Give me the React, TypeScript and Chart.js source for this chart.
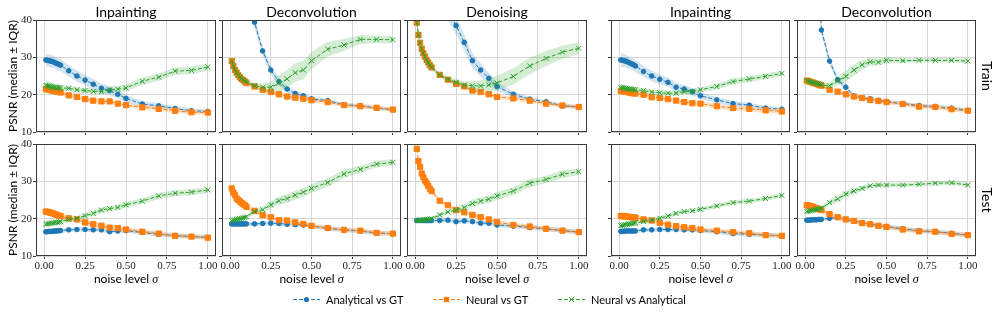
import React, { useEffect, useRef } from "react";
import { Chart, registerables } from "chart.js";
Chart.register(...registerables);

// ---------------- data ----------------
const sigma = [0.01, 0.02, 0.03, 0.04, 0.05, 0.06, 0.07, 0.08, 0.09, 0.1, 0.15, 0.2, 0.25, 0.3, 0.35, 0.4, 0.45, 0.5, 0.6, 0.7, 0.8, 0.9, 1.0];
const xTickValues = [0, 0.25, 0.5, 0.75, 1];
const yTickValues = [10, 20, 30, 40];
const taskTitles = ["Inpainting", "Deconvolution", "Denoising", "Inpainting", "Deconvolution"];
const rowLabels = ["Train", "Test"];
const seriesNames = ["Analytical vs GT", "Neural vs GT", "Neural vs Analytical"];
const yAxisLabel = "PSNR (median \u00b1 IQR)";
const xAxisLabel = "noise level";

// Train row, left block
const trInpL_A = [29.3, 29.2, 29.1, 29.0, 28.9, 28.7, 28.5, 28.3, 28.1, 27.9, 26.4, 25.0, 23.9, 22.8, 21.7, 21.1, 20.1, 19.0, 17.5, 17.0, 16.3, 15.7, 15.5];
const trInpL_Aiqr = [1.7, 1.7, 1.7, 1.7, 1.6, 1.6, 1.6, 1.6, 1.6, 1.6, 1.5, 1.5, 1.4, 1.4, 1.3, 1.2, 1.1, 1.0, 0.8, 0.7, 0.6, 0.6, 0.5];
const trInpL_N = [21.5, 21.4, 21.3, 21.2, 21.1, 21.0, 20.9, 20.8, 20.7, 20.6, 19.8, 19.4, 18.8, 18.4, 18.2, 18.2, 17.6, 17.2, 16.6, 16.2, 15.7, 15.3, 15.2];
const trInpL_Niqr = [0.8, 0.8, 0.8, 0.8, 0.8, 0.8, 0.7, 0.7, 0.7, 0.7, 0.7, 0.7, 0.7, 0.7, 0.6, 0.6, 0.6, 0.6, 0.6, 0.6, 0.6, 0.6, 0.6];
const trInpL_X = [22.5, 22.4, 22.3, 22.2, 22.1, 22.0, 22.0, 21.9, 21.9, 21.8, 21.7, 21.3, 21.1, 20.9, 20.8, 21.3, 21.5, 21.8, 23.6, 24.7, 26.3, 26.5, 27.4];
const trInpL_Xiqr = [1.4, 1.3, 1.2, 1.1, 1.0, 0.9, 0.9, 0.8, 0.8, 0.8, 0.7, 0.7, 0.7, 0.7, 0.7, 0.8, 0.8, 0.9, 1.0, 1.0, 1.0, 1.0, 1.0];

const trDecL_A = [null, null, null, null, null, null, null, null, null, 48.0, 39.4, 31.7, 26.6, 23.5, 21.5, 20.3, 19.7, 18.9, 18.4, 17.3, 17.0, 16.4, 16.0];
const trDecL_Aiqr = [null, null, null, null, null, null, null, null, null, 1.8, 1.5, 1.3, 1.2, 1.0, 0.9, 0.8, 0.7, 0.6, 0.5, 0.5, 0.5, 0.5, 0.5];
const trDecL_N = [29.0, 27.7, 26.6, 25.9, 25.2, 24.7, 24.2, 23.9, 23.5, 23.1, 22.2, 21.3, 20.7, 20.1, 19.5, 19.2, 18.9, 18.5, 18.0, 17.2, 16.9, 16.5, 16.0];
const trDecL_Niqr = [0.7, 0.7, 0.6, 0.6, 0.6, 0.6, 0.6, 0.6, 0.6, 0.6, 0.6, 0.6, 0.6, 0.6, 0.6, 0.6, 0.6, 0.6, 0.6, 0.6, 0.6, 0.6, 0.6];
const trDecL_X = [29.0, 27.7, 26.6, 25.9, 25.2, 24.7, 24.3, 24.0, 23.7, 23.4, 22.4, 22.0, 22.0, 23.0, 24.2, 25.9, 26.6, 29.1, 32.2, 33.3, 34.8, 34.8, 34.7];
const trDecL_Xiqr = [0.6, 0.6, 0.6, 0.6, 0.6, 0.6, 0.6, 0.6, 0.6, 0.6, 0.8, 1.0, 1.5, 2.2, 2.5, 2.5, 2.5, 2.3, 2.0, 1.6, 1.2, 1.0, 1.0];

const trDenL_A = [null, null, null, null, null, null, null, null, null, null, 46.5, 42.3, 38.5, 34.0, 29.1, 26.6, 24.4, 22.2, 20.1, 18.8, 18.1, 17.0, 16.7];
const trDenL_Aiqr = [null, null, null, null, null, null, null, null, null, null, 2.5, 2.5, 2.3, 2.2, 2.0, 1.8, 1.5, 1.2, 0.8, 0.6, 0.5, 0.5, 0.5];
const trDenL_N = [39.3, 36.0, 33.9, 32.3, 31.1, 30.2, 29.3, 28.6, 27.9, 27.3, 25.3, 24.0, 22.9, 22.2, 21.1, 20.7, 20.1, 19.4, 19.0, 18.4, 17.6, 17.1, 16.7];
const trDenL_Niqr = [0.7, 0.7, 0.6, 0.6, 0.6, 0.6, 0.6, 0.6, 0.6, 0.6, 0.6, 0.6, 0.6, 0.6, 0.6, 0.6, 0.6, 0.6, 0.6, 0.6, 0.6, 0.6, 0.6];
const trDenL_X = [39.3, 36.0, 33.9, 32.3, 31.1, 30.2, 29.3, 28.6, 27.9, 27.3, 25.3, 24.1, 23.3, 22.6, 22.4, 22.3, 22.6, 23.1, 24.9, 27.7, 29.7, 31.4, 32.4];
const trDenL_Xiqr = [0.6, 0.6, 0.6, 0.6, 0.6, 0.6, 0.6, 0.6, 0.6, 0.6, 0.6, 0.7, 0.8, 1.0, 1.2, 1.5, 1.8, 2.0, 2.2, 2.2, 2.0, 1.8, 1.6];

// Train row, right block
const trInpR_A = [29.3, 29.2, 29.1, 29.0, 28.8, 28.6, 28.4, 28.2, 28.0, 27.7, 26.2, 25.0, 24.1, 23.3, 22.0, 21.5, 20.8, 19.7, 18.6, 17.6, 17.2, 16.4, 16.1];
const trInpR_Aiqr = [1.8, 1.8, 1.8, 1.7, 1.7, 1.7, 1.6, 1.6, 1.6, 1.6, 1.5, 1.4, 1.3, 1.2, 1.2, 1.1, 1.0, 0.9, 0.8, 0.7, 0.6, 0.6, 0.5];
const trInpR_N = [21.0, 20.9, 20.9, 20.8, 20.7, 20.6, 20.5, 20.4, 20.4, 20.3, 20.0, 19.3, 19.1, 18.8, 18.4, 18.0, 17.7, 17.6, 16.9, 16.4, 16.2, 15.8, 15.5];
const trInpR_Niqr = [0.8, 0.8, 0.8, 0.8, 0.8, 0.8, 0.8, 0.8, 0.8, 0.8, 0.8, 0.8, 0.7, 0.7, 0.7, 0.7, 0.7, 0.7, 0.7, 0.7, 0.7, 0.7, 0.7];
const trInpR_X = [21.9, 21.8, 21.8, 21.7, 21.6, 21.5, 21.5, 21.4, 21.4, 21.3, 21.1, 20.7, 20.5, 20.4, 20.4, 20.8, 20.9, 21.3, 22.2, 23.5, 24.2, 24.9, 25.7];
const trInpR_Xiqr = [1.0, 1.0, 0.9, 0.9, 0.8, 0.8, 0.8, 0.7, 0.7, 0.7, 0.7, 0.7, 0.7, 0.7, 0.7, 0.7, 0.7, 0.7, 0.8, 0.8, 0.8, 0.8, 0.8];

const trDecR_A = [null, null, null, null, null, null, null, null, 45.0, 37.3, 29.0, 24.0, 22.0, 19.7, 19.1, 18.9, 18.5, 18.2, 17.6, 17.1, 16.8, 16.4, 15.8];
const trDecR_Aiqr = [null, null, null, null, null, null, null, null, 1.4, 1.2, 1.0, 0.9, 0.8, 0.6, 0.5, 0.5, 0.5, 0.5, 0.5, 0.5, 0.5, 0.5, 0.5];
const trDecR_N = [23.8, 23.6, 23.5, 23.3, 23.2, 23.0, 22.9, 22.7, 22.6, 22.4, 21.3, 20.8, 20.1, 19.5, 19.1, 18.6, 18.3, 18.0, 17.5, 16.8, 16.7, 16.1, 15.7];
const trDecR_Niqr = [0.6, 0.6, 0.6, 0.6, 0.6, 0.6, 0.6, 0.6, 0.6, 0.6, 0.6, 0.6, 0.6, 0.6, 0.6, 0.6, 0.6, 0.6, 0.6, 0.6, 0.6, 0.6, 0.6];
const trDecR_X = [23.8, 23.6, 23.5, 23.4, 23.2, 23.1, 23.0, 22.9, 22.8, 22.6, 22.4, 23.7, 24.9, 26.6, 28.0, 28.8, 28.7, 29.2, 29.1, 29.2, 29.2, 29.2, 29.0];
const trDecR_Xiqr = [0.6, 0.6, 0.6, 0.6, 0.6, 0.6, 0.6, 0.6, 0.6, 0.6, 0.8, 1.2, 1.5, 1.5, 1.3, 1.0, 0.9, 0.8, 0.6, 0.6, 0.6, 0.6, 0.6];

// Test row, left block
const teInpL_A = [16.5, 16.5, 16.6, 16.6, 16.6, 16.7, 16.7, 16.7, 16.8, 16.8, 17.0, 17.1, 17.1, 17.0, 17.0, 16.5, 16.7, 16.8, 16.3, 15.8, 15.5, 15.2, 15.0];
const teInpL_Aiqr = [0.6, 0.6, 0.6, 0.6, 0.6, 0.6, 0.6, 0.6, 0.6, 0.6, 0.6, 0.6, 0.6, 0.6, 0.6, 0.6, 0.6, 0.6, 0.6, 0.6, 0.6, 0.6, 0.6];
const teInpL_N = [21.9, 21.8, 21.7, 21.6, 21.5, 21.3, 21.1, 21.0, 20.8, 20.7, 20.1, 19.8, 19.0, 18.5, 18.1, 17.6, 17.5, 17.1, 16.5, 16.0, 15.4, 15.2, 14.9];
const teInpL_Niqr = [1.0, 1.0, 1.0, 1.0, 1.0, 0.9, 0.9, 0.9, 0.9, 0.9, 0.8, 0.8, 0.8, 0.7, 0.7, 0.7, 0.7, 0.7, 0.6, 0.6, 0.6, 0.6, 0.6];
const teInpL_X = [18.5, 18.6, 18.7, 18.8, 18.8, 18.9, 19.0, 19.0, 19.1, 19.2, 19.8, 20.1, 20.8, 21.4, 22.3, 22.7, 23.0, 23.7, 24.7, 26.1, 26.8, 27.1, 27.7];
const teInpL_Xiqr = [0.6, 0.6, 0.6, 0.6, 0.6, 0.6, 0.6, 0.6, 0.6, 0.6, 0.6, 0.6, 0.7, 0.7, 0.7, 0.7, 0.8, 0.8, 0.8, 0.8, 0.8, 0.8, 0.8];

const teDecL_A = [18.6, 18.6, 18.6, 18.6, 18.6, 18.6, 18.6, 18.6, 18.6, 18.6, 18.6, 18.7, 18.8, 18.7, 18.5, 18.4, 18.3, 18.0, 17.4, 17.0, 16.7, 16.1, 16.0];
const teDecL_Aiqr = [0.5, 0.5, 0.5, 0.5, 0.5, 0.5, 0.5, 0.5, 0.5, 0.5, 0.6, 0.6, 0.6, 0.6, 0.6, 0.6, 0.6, 0.6, 0.6, 0.6, 0.6, 0.6, 0.6];
const teDecL_N = [28.1, 27.0, 26.3, 25.4, 25.0, 24.6, 24.2, 23.9, 23.6, 23.2, 22.1, 20.9, 20.4, 19.6, 19.5, 19.0, 18.6, 18.1, 17.5, 17.0, 16.8, 16.2, 16.0];
const teDecL_Niqr = [1.0, 1.0, 0.9, 0.9, 0.9, 0.8, 0.8, 0.8, 0.8, 0.8, 0.7, 0.7, 0.7, 0.7, 0.6, 0.6, 0.6, 0.6, 0.6, 0.6, 0.6, 0.6, 0.6];
const teDecL_X = [19.5, 19.6, 19.7, 19.8, 19.9, 20.0, 20.1, 20.2, 20.3, 20.5, 21.9, 22.4, 23.7, 24.8, 25.4, 26.3, 27.1, 28.1, 29.7, 32.0, 33.2, 34.6, 35.1];
const teDecL_Xiqr = [0.5, 0.5, 0.5, 0.5, 0.5, 0.5, 0.5, 0.5, 0.5, 0.5, 0.7, 0.8, 1.0, 1.1, 1.2, 1.2, 1.2, 1.2, 1.2, 1.1, 1.0, 0.9, 0.8];

const teDenL_A = [19.5, 19.5, 19.5, 19.5, 19.5, 19.5, 19.5, 19.5, 19.5, 19.5, 19.5, 19.6, 19.2, 19.4, 19.2, 18.8, 18.8, 18.3, 18.0, 17.6, 17.3, 16.8, 16.4];
const teDenL_Aiqr = [0.5, 0.5, 0.5, 0.5, 0.5, 0.5, 0.5, 0.5, 0.5, 0.5, 0.6, 0.6, 0.6, 0.6, 0.6, 0.6, 0.6, 0.6, 0.6, 0.6, 0.6, 0.6, 0.6];
const teDenL_N = [38.7, 35.4, 33.9, 32.1, 31.1, 30.2, 29.5, 28.8, 28.0, 27.4, 24.8, 23.6, 22.3, 21.7, 21.0, 20.4, 19.8, 19.1, 18.3, 17.9, 17.3, 16.8, 16.4];
const teDenL_Niqr = [0.8, 0.8, 0.7, 0.7, 0.7, 0.7, 0.7, 0.7, 0.7, 0.7, 0.7, 0.7, 0.7, 0.6, 0.6, 0.6, 0.6, 0.6, 0.6, 0.6, 0.6, 0.6, 0.6];
const teDenL_X = [19.5, 19.5, 19.6, 19.6, 19.7, 19.7, 19.8, 19.8, 19.9, 20.0, 21.0, 21.8, 22.3, 23.0, 24.1, 24.7, 25.2, 26.1, 27.4, 29.5, 30.5, 31.9, 32.6];
const teDenL_Xiqr = [0.5, 0.5, 0.5, 0.5, 0.5, 0.5, 0.5, 0.5, 0.5, 0.5, 0.6, 0.7, 0.8, 0.9, 1.0, 1.0, 1.0, 1.1, 1.1, 1.1, 1.0, 1.0, 0.9];

// Test row, right block
const teInpR_A = [16.6, 16.6, 16.6, 16.7, 16.7, 16.7, 16.7, 16.7, 16.7, 16.7, 17.0, 17.0, 17.1, 17.1, 17.1, 17.0, 17.0, 16.8, 16.5, 16.0, 15.8, 15.6, 15.4];
const teInpR_Aiqr = [0.6, 0.6, 0.6, 0.6, 0.6, 0.6, 0.6, 0.6, 0.6, 0.6, 0.6, 0.6, 0.6, 0.6, 0.6, 0.6, 0.6, 0.6, 0.6, 0.6, 0.6, 0.6, 0.6];
const teInpR_N = [20.7, 20.7, 20.6, 20.6, 20.5, 20.5, 20.4, 20.4, 20.3, 20.3, 19.8, 19.5, 18.9, 18.4, 18.0, 17.7, 17.5, 17.1, 16.8, 16.4, 16.1, 15.6, 15.4];
const teInpR_Niqr = [1.0, 1.0, 1.0, 1.0, 0.9, 0.9, 0.9, 0.9, 0.9, 0.9, 0.8, 0.8, 0.8, 0.7, 0.7, 0.7, 0.7, 0.7, 0.6, 0.6, 0.6, 0.6, 0.6];
const teInpR_X = [18.1, 18.2, 18.3, 18.4, 18.5, 18.6, 18.6, 18.7, 18.8, 18.9, 19.2, 19.6, 20.1, 20.7, 21.4, 21.9, 22.1, 22.5, 23.4, 24.3, 24.7, 25.4, 26.2];
const teInpR_Xiqr = [0.6, 0.6, 0.6, 0.6, 0.6, 0.6, 0.6, 0.6, 0.6, 0.6, 0.6, 0.6, 0.6, 0.6, 0.6, 0.6, 0.6, 0.6, 0.6, 0.6, 0.6, 0.6, 0.6];

const teDecR_A = [19.6, 19.6, 19.6, 19.7, 19.7, 19.7, 19.7, 19.8, 19.8, 19.8, 20.1, 20.3, 19.8, 19.4, 18.9, 18.6, 18.1, 17.9, 17.3, 16.8, 16.5, 16.1, 15.6];
const teDecR_Aiqr = [0.5, 0.5, 0.5, 0.5, 0.5, 0.5, 0.5, 0.5, 0.5, 0.5, 0.6, 0.6, 0.6, 0.6, 0.6, 0.6, 0.6, 0.6, 0.6, 0.6, 0.6, 0.6, 0.6];
const teDecR_N = [23.6, 23.5, 23.4, 23.3, 23.1, 22.9, 22.8, 22.6, 22.5, 22.3, 21.2, 20.4, 19.8, 19.4, 18.8, 18.5, 18.1, 17.8, 17.1, 16.6, 16.5, 15.9, 15.6];
const teDecR_Niqr = [1.0, 1.0, 1.0, 0.9, 0.9, 0.9, 0.9, 0.9, 0.8, 0.8, 0.8, 0.7, 0.7, 0.7, 0.6, 0.6, 0.6, 0.6, 0.6, 0.6, 0.6, 0.6, 0.6];
const teDecR_X = [21.9, 22.0, 22.1, 22.2, 22.3, 22.4, 22.5, 22.6, 22.7, 22.8, 24.3, 25.3, 26.6, 27.4, 28.1, 28.8, 29.0, 29.0, 29.0, 29.2, 29.5, 29.6, 29.0];
const teDecR_Xiqr = [0.6, 0.6, 0.6, 0.6, 0.6, 0.6, 0.6, 0.6, 0.6, 0.6, 0.8, 0.9, 0.9, 0.8, 0.7, 0.6, 0.6, 0.6, 0.6, 0.6, 0.6, 0.6, 0.6];

const panels = [
  { row: 0, col: 0, a: trInpL_A, aI: trInpL_Aiqr, n: trInpL_N, nI: trInpL_Niqr, x: trInpL_X, xI: trInpL_Xiqr },
  { row: 0, col: 1, a: trDecL_A, aI: trDecL_Aiqr, n: trDecL_N, nI: trDecL_Niqr, x: trDecL_X, xI: trDecL_Xiqr },
  { row: 0, col: 2, a: trDenL_A, aI: trDenL_Aiqr, n: trDenL_N, nI: trDenL_Niqr, x: trDenL_X, xI: trDenL_Xiqr },
  { row: 0, col: 3, a: trInpR_A, aI: trInpR_Aiqr, n: trInpR_N, nI: trInpR_Niqr, x: trInpR_X, xI: trInpR_Xiqr },
  { row: 0, col: 4, a: trDecR_A, aI: trDecR_Aiqr, n: trDecR_N, nI: trDecR_Niqr, x: trDecR_X, xI: trDecR_Xiqr },
  { row: 1, col: 0, a: teInpL_A, aI: teInpL_Aiqr, n: teInpL_N, nI: teInpL_Niqr, x: teInpL_X, xI: teInpL_Xiqr },
  { row: 1, col: 1, a: teDecL_A, aI: teDecL_Aiqr, n: teDecL_N, nI: teDecL_Niqr, x: teDecL_X, xI: teDecL_Xiqr },
  { row: 1, col: 2, a: teDenL_A, aI: teDenL_Aiqr, n: teDenL_N, nI: teDenL_Niqr, x: teDenL_X, xI: teDenL_Xiqr },
  { row: 1, col: 3, a: teInpR_A, aI: teInpR_Aiqr, n: teInpR_N, nI: teInpR_Niqr, x: teInpR_X, xI: teInpR_Xiqr },
  { row: 1, col: 4, a: teDecR_A, aI: teDecR_Aiqr, n: teDecR_N, nI: teDecR_Niqr, x: teDecR_X, xI: teDecR_Xiqr },
];

// ---------------- layout / style ----------------
const W = 997;
const H = 318;
const COLS = [[36, 216], [222, 401], [407, 587], [611, 790], [797, 976]];
const ROWS = [[20, 132], [144, 256]];
const YW = 30;
const XH = 20;
const BLUE = [31, 119, 180];
const ORANGE = [255, 127, 14];
const GREEN = [44, 160, 44];
const GRID = "#d6d6d6";
const SPINE = "#3a3a3a";
const SANS = "Lato, 'DejaVu Sans', sans-serif";
const SERIF = "'Liberation Serif', 'DejaVu Serif', serif";

const rgba = (c, a) => `rgba(${c[0]},${c[1]},${c[2]},${a})`;

const framePlugin = {
  id: "frame",
  afterDatasetsDraw(chart) {
    const { ctx, chartArea: a } = chart;
    ctx.save();
    ctx.strokeStyle = SPINE;
    ctx.lineWidth = 1;
    ctx.strokeRect(Math.round(a.left) + 0.5, Math.round(a.top) + 0.5, Math.round(a.right - a.left) - 1, Math.round(a.bottom - a.top) - 1);
    ctx.restore();
  },
};

function buildDatasets(p) {
  const series = [
    { med: p.a, iqr: p.aI, c: BLUE, style: "circle", r: 2.3 },
    { med: p.n, iqr: p.nI, c: ORANGE, style: "rect", r: 3.7 },
    { med: p.x, iqr: p.xI, c: GREEN, style: "crossRot", r: 3.5 },
  ];
  const ds: any[] = [];
  series.forEach((s) => {
    const pts = (f) => sigma.map((sx, i) => ({ x: sx, y: s.med[i] == null ? null : f(s.med[i], s.iqr[i]) }));
    ds.push({ data: pts((m, q) => m - q), borderWidth: 0, pointRadius: 0, fill: false, borderColor: "transparent" });
    ds.push({ data: pts((m, q) => m + q), borderWidth: 0, pointRadius: 0, fill: "-1", borderColor: "transparent", backgroundColor: rgba(s.c, 0.2) });
    ds.push({
      data: pts((m) => m),
      borderColor: rgba(s.c, 1),
      borderWidth: 1,
      borderDash: [4, 2],
      fill: false,
      pointStyle: s.style,
      pointRadius: s.r,
      pointBackgroundColor: rgba(s.c, 1),
      pointBorderColor: rgba(s.c, 1),
      pointBorderWidth: 1,
    });
  });
  ds.forEach((d, i) => { d.order = ds.length - i; d.tension = 0; });
  return ds;
}

function Panel({ p }) {
  const ref = useRef(null);
  useEffect(() => {
    const [cl, cr] = COLS[p.col];
    const [rt, rb] = ROWS[p.row];
    const chart = new Chart(ref.current, {
      type: "line",
      data: { datasets: buildDatasets(p) },
      plugins: [framePlugin],
      options: {
        animation: false,
        responsive: false,
        maintainAspectRatio: false,
        devicePixelRatio: 1,
        layout: { padding: { left: cl - YW, right: W - cr, top: rt, bottom: H - rb - XH } },
        plugins: { legend: { display: false }, tooltip: { enabled: false } },
        events: [],
        scales: {
          x: {
            type: "linear",
            min: -0.05,
            max: 1.05,
            afterBuildTicks: (s) => { s.ticks = xTickValues.map((v) => ({ value: v })); },
            afterFit: (s) => { s.height = XH; },
            ticks: {
              display: p.row === 1,
              autoSkip: false,
              maxRotation: 0,
              padding: 1,
              color: "#222",
              font: { family: SERIF, size: 11 },
              callback: (v) => Number(v).toFixed(2),
            },
            grid: { color: GRID, lineWidth: 1, drawTicks: true, tickLength: 3, tickColor: SPINE },
            border: { display: false },
          },
          y: {
            type: "linear",
            min: 10,
            max: 40,
            afterBuildTicks: (s) => { s.ticks = yTickValues.map((v) => ({ value: v })); },
            afterFit: (s) => { s.width = YW; },
            ticks: {
              display: p.col === 0,
              padding: 1,
              color: "#222",
              font: { family: SERIF, size: 11 },
              callback: (v) => String(v),
            },
            grid: { color: GRID, lineWidth: 1, drawTicks: true, tickLength: 3, tickColor: SPINE },
            border: { display: false },
          },
        },
      },
    });
    return () => chart.destroy();
  }, []);
  return <canvas ref={ref} width={W} height={H} style={{ position: "absolute", left: 0, top: 0, width: W, height: H }} />;
}

function Txt({ x, y, rot = 0, size, family = SANS, children }) {
  return (
    <div
      style={{
        position: "absolute",
        left: x,
        top: y,
        transform: `translate(-50%, -50%) rotate(${rot}deg)`,
        whiteSpace: "nowrap",
        fontSize: size,
        fontFamily: family,
        lineHeight: 1,
        color: "#000",
      }}
    >
      {children}
    </div>
  );
}

function LegendMarker({ kind, c }) {
  const col = rgba(c, 1);
  return (
    <svg width={27} height={10} style={{ display: "block" }}>
      <line x1={0} y1={5} x2={27} y2={5} stroke={col} strokeWidth={1} strokeDasharray="4 2" />
      {kind === "circle" && <circle cx={13.5} cy={5} r={2.6} fill={col} />}
      {kind === "rect" && <rect x={10.8} y={2.3} width={5.4} height={5.4} fill={col} />}
      {kind === "x" && (
        <g stroke={col} strokeWidth={1}>
          <line x1={11} y1={2.5} x2={16} y2={7.5} />
          <line x1={11} y1={7.5} x2={16} y2={2.5} />
        </g>
      )}
    </svg>
  );
}

const legendItems = [
  { left: 293, kind: "circle", c: BLUE },
  { left: 433, kind: "rect", c: ORANGE },
  { left: 558, kind: "x", c: GREEN },
];

export default function App() {
  return (
    <div style={{ position: "fixed", left: 0, top: 0, width: W, height: H, background: "#fff", overflow: "hidden" }}>
      {panels.map((p, i) => (
        <Panel key={i} p={p} />
      ))}
      {COLS.map(([l, r], i) => (
        <Txt key={"t" + i} x={(l + r) / 2} y={12} size={14}>{taskTitles[i]}</Txt>
      ))}
      {COLS.map(([l, r], i) => (
        <Txt key={"xl" + i} x={(l + r) / 2} y={279} size={12}>
          {xAxisLabel} <i style={{ fontFamily: SERIF }}>{"\u03c3"}</i>
        </Txt>
      ))}
      {ROWS.map(([t, b], i) => (
        <Txt key={"yl" + i} x={13} y={(t + b) / 2} rot={-90} size={12}>{yAxisLabel}</Txt>
      ))}
      {ROWS.map(([t, b], i) => (
        <Txt key={"rl" + i} x={987} y={(t + b) / 2} rot={90} size={14}>{rowLabels[i]}</Txt>
      ))}
      {legendItems.map((it, i) => (
        <div
          key={"lg" + i}
          style={{ position: "absolute", left: it.left, top: 299, transform: "translateY(-50%)", display: "flex", alignItems: "center", whiteSpace: "nowrap" }}
        >
          <LegendMarker kind={it.kind} c={it.c} />
          <span style={{ marginLeft: 6, fontSize: 11, fontFamily: SANS, lineHeight: 1 }}>{seriesNames[i]}</span>
        </div>
      ))}
    </div>
  );
}
